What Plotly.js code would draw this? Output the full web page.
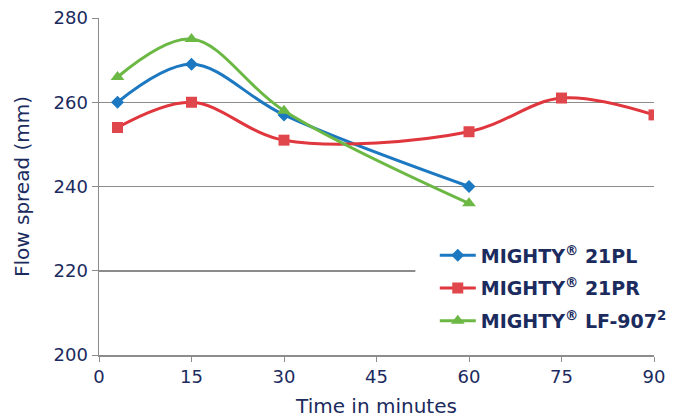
<!DOCTYPE html>
<html><head><meta charset="utf-8">
<script src="https://cdn.plot.ly/plotly-3.0.1.min.js"></script>
<style>body{margin:0;background:#fff}#c{width:692px;height:418px}</style>
</head><body><div id="c"></div>
<script>
const names = ["MIGHTY<sup>®</sup> 21PL", "MIGHTY<sup>®</sup> 21PR", "MIGHTY<sup>®</sup> LF-907<sup>2</sup>"];
const xPL = [3, 15, 30, 60];
const yPL = [260, 269, 257, 240];
const xPR = [3, 15, 30, 60, 75, 90];
const yPR = [254, 260, 251, 253, 261, 257];
const xLF = [3, 15, 30, 60];
const yLF = [266, 275, 258, 236];
const xTicks = [0, 15, 30, 45, 60, 75, 90];
const yTicks = [200, 220, 240, 260, 280];

const navy = "#1b2b5e";
const fam = "DejaVu Sans, sans-serif";
const traces = [
  {x:xPL, y:yPL, name:names[0], legendgroup:"a", mode:"lines+markers", line:{color:"#1c78c0", width:3, shape:"spline", smoothing:1}, marker:{symbol:"diamond", size:10, color:"#1c78c0"}},
  {x:xPR, y:yPR, name:names[1], legendgroup:"b", mode:"lines+markers", line:{color:"#e0363d", width:3, shape:"spline", smoothing:1}, marker:{symbol:"square", size:11, color:"#e0474c"}},
  {x:xLF, y:yLF, name:names[2], legendgroup:"c", mode:"lines+markers", line:{color:"#6cb845", width:3, shape:"spline", smoothing:1}, marker:{symbol:"triangle-up", size:12, color:"#6cb845"}}
];
const layout = {
  width:692, height:418,
  margin:{l:99, r:38, t:18, b:63},
  paper_bgcolor:"#fff", plot_bgcolor:"#fff",
  font:{family:fam, color:navy, size:16},
  showlegend:true,
  legend:{x:0.605, y:0.352, xanchor:"left", yanchor:"top", bgcolor:"rgba(255,255,255,0)", itemwidth:36, font:{size:19, color:navy, family:fam, weight:700}, traceorder:"grouped", tracegroupgap:5},
  shapes:[{type:"rect", xref:"paper", yref:"paper", x0:0.57, x1:1.0, y0:0.18, y1:0.32, fillcolor:"#fff", line:{width:0}, layer:"above"}],
  xaxis:{range:[0,90], tickvals:xTicks, ticktext:xTicks.map(String), showgrid:false, zeroline:false, showline:true, linecolor:"#8c8c8c", linewidth:1.5, ticks:"outside", ticklen:5, tickcolor:"#8c8c8c", tickfont:{size:18, color:navy},
    title:{text:"Time in minutes", font:{size:20, color:navy}, standoff:14}},
  yaxis:{range:[200,280], tickvals:yTicks, ticktext:yTicks.map(String), showgrid:true, gridcolor:"#8c8c8c", gridwidth:1.5, zeroline:false, showline:true, linecolor:"#8c8c8c", linewidth:1.5, ticks:"outside", ticklen:6, tickcolor:"#8c8c8c", tickfont:{size:18, color:navy},
    title:{text:"Flow spread (mm)", font:{size:20, color:navy}, standoff:18}}
};
Plotly.newPlot("c", traces, layout, {displayModeBar:false, staticPlot:true});
</script></body></html>
